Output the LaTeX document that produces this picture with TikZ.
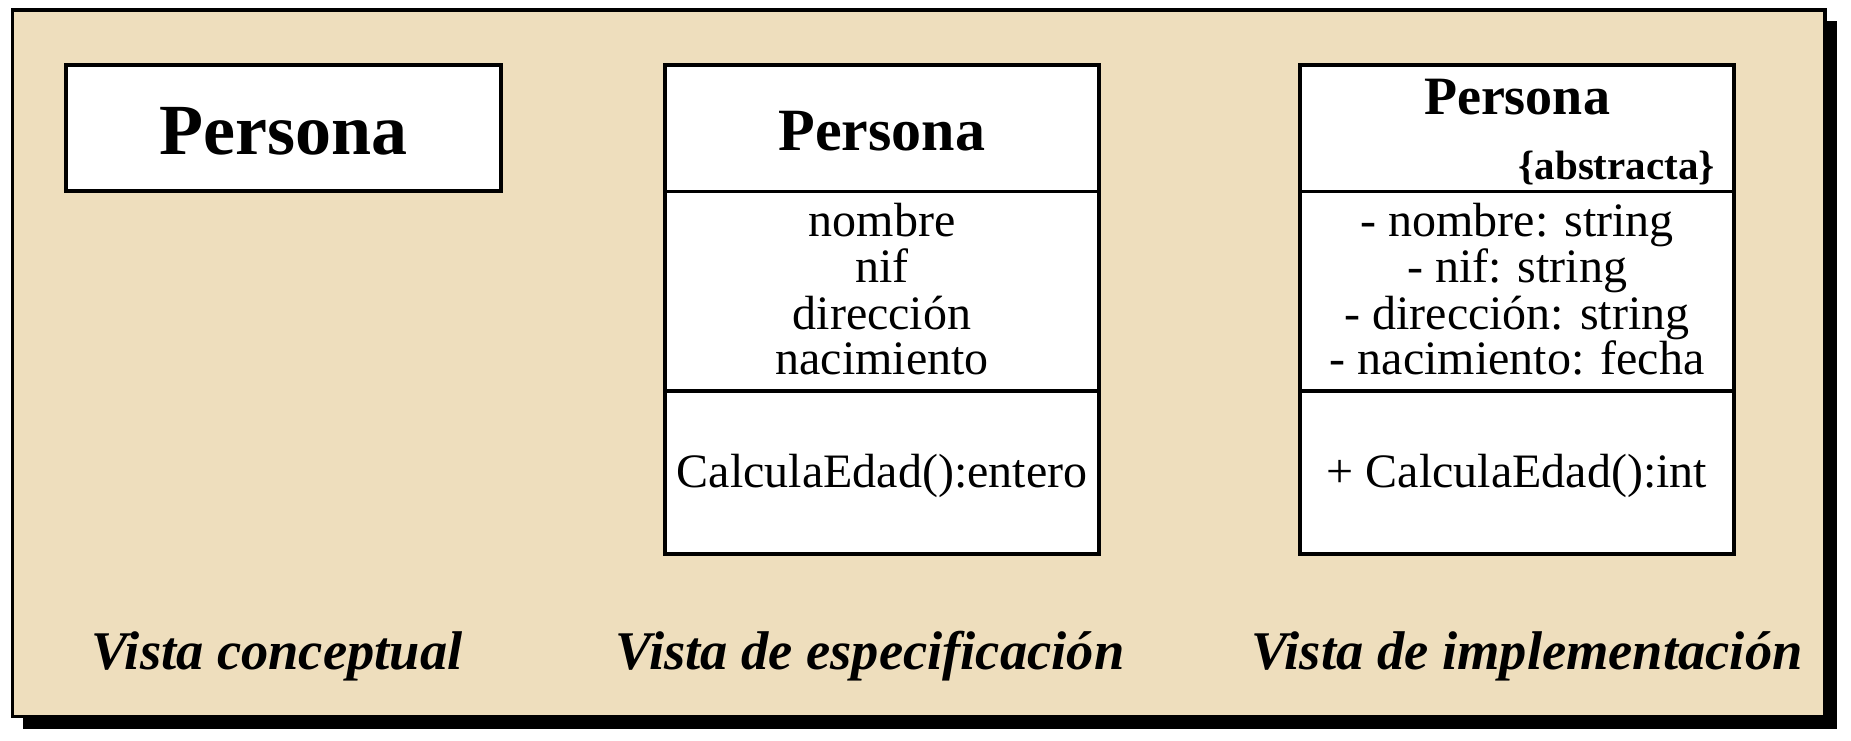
\documentclass[tikz,border=0pt]{standalone}
\usepackage{fontspec}
\setmainfont{Liberation Serif}
\usetikzlibrary{positioning}

\definecolor{pergamino}{RGB}{238,222,189}

\tikzset{
	seccion/.style={draw, line width=3.5pt, fill=white, inner sep=0pt, outer sep=0pt, minimum width=435pt},
	texto/.style={anchor=base, inner sep=0pt, font=\fontsize{48}{48}\selectfont},
	vista/.style={anchor=base, inner sep=0pt, font=\bfseries\itshape\fontsize{54.5}{54.5}\selectfont},
}

\begin{document}
\begin{tikzpicture}[x=1pt, y=-1pt]
	\useasboundingbox (0,0) rectangle (1851,740);
	% fondo y sombra
	\fill[black] (23,21) rectangle (1837,729);
	\draw[line width=3.5pt, fill=pergamino] (12.5,10) rectangle (1825,716.5);

	% vista conceptual
	\node[seccion, minimum height=126pt] (concepto) at (283.5,128) {};
	\node[texto, font=\bfseries\fontsize{72}{72}\selectfont] (concepto-nombre) at (283.5,154) {Persona};

	% vista de especificacion
	\node[seccion, minimum width=434pt, minimum height=126.5pt] (espec) at (882,128.25) {};
	\node[seccion, minimum width=434pt, minimum height=199.5pt, below=0pt of espec] (espec-atr) {};
	\node[seccion, minimum width=434pt, minimum height=163pt, below=0pt of espec-atr] (espec-op) {};
	\node[texto, font=\bfseries\fontsize{60}{60}\selectfont] (espec-nombre) at (882,150) {Persona};
	\node[texto] (espec-a1) at (882,236) {nombre};
	\node[texto] (espec-a2) at (882,282) {nif};
	\node[texto] (espec-a3) at (882,329) {dirección};
	\node[texto] (espec-a4) at (882,374) {nacimiento};
	\node[texto] (espec-o1) at (882,487) {CalculaEdad():entero};

	% vista de implementacion
	\node[seccion, minimum width=434pt, minimum height=126.5pt] (impl) at (1517,128.25) {};
	\node[seccion, minimum width=434pt, minimum height=199.5pt, below=0pt of impl] (impl-atr) {};
	\node[seccion, minimum width=434pt, minimum height=163pt, below=0pt of impl-atr] (impl-op) {};
	\node[texto, font=\bfseries\fontsize{54}{54}\selectfont] (impl-nombre) at (1517,114) {Persona};
	\node[texto, anchor=base east, font=\bfseries\fontsize{41}{41}\selectfont] (impl-abs) at (1715,179) {\{abstracta\}};
	\node[texto] (impl-a1) at (1517,236) {- nombre: string};
	\node[texto] (impl-a2) at (1517,282) {- nif: string};
	\node[texto] (impl-a3) at (1517,329) {- dirección: string};
	\node[texto] (impl-a4) at (1517,374) {- nacimiento: fecha};
	\node[texto] (impl-o1) at (1517,487) {+ CalculaEdad():int};

	% rotulos
	\node[vista] (rot-concepto) at (277,669) {Vista conceptual};
	\node[vista] (rot-espec) at (870,669) {Vista de especificación};
	\node[vista] (rot-impl) at (1527,669) {Vista de implementación};
\end{tikzpicture}
\end{document}
